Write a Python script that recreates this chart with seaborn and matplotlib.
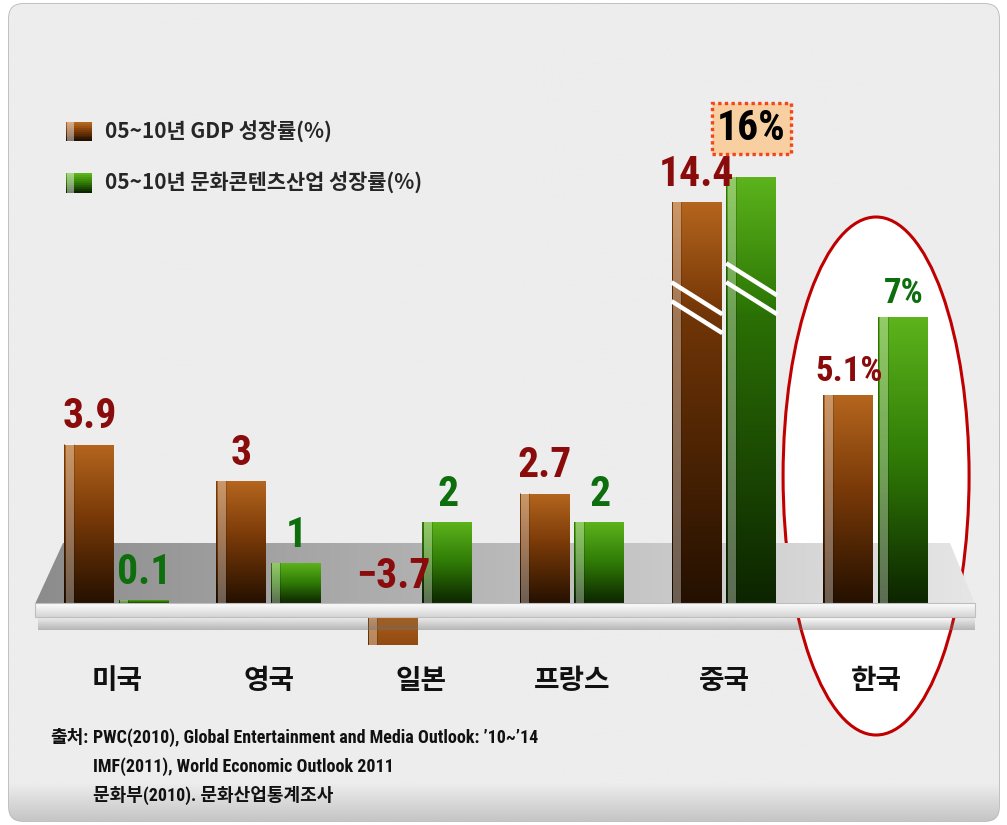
import numpy as np
import pandas as pd
import matplotlib
matplotlib.use('Agg')
import matplotlib.pyplot as plt
import seaborn as sns
from matplotlib import font_manager as fm
from matplotlib.font_manager import FontProperties
from matplotlib.patches import Rectangle, Ellipse, Polygon, FancyBboxPatch, Patch
from matplotlib.legend_handler import HandlerBase
from matplotlib.colors import to_rgb

# ---------------- data ----------------
countries = ['미국', '영국', '일본', '프랑스', '중국', '한국']
gdp_growth = [3.9, 3.0, -3.7, 2.7, 14.4, 5.1]
culture_growth = [0.1, 1.0, 2.0, 2.0, 16.0, 7.0]
gdp_labels = ['3.9', '3', '−3.7', '2.7', '14.4', '5.1%']
culture_labels = ['0.1', '1', '2', '2', '16%', '7%']
series_names = ['05~10년 GDP 성장률(%)', '05~10년 문화콘텐츠산업 성장률(%)']
source_prefix = '출처:'
source_lines = ['PWC(2010), Global Entertainment and Media Outlook: ’10~’14',
                'IMF(2011), World Economic Outlook 2011',
                '문화부(2010). 문화산업통계조사']
highlight_country = '한국'
boxed_country = '중국'

# ---------------- style ----------------
sns.set_theme(style='white')
plt.rcParams['font.family'] = ['Noto Sans CJK KR', 'DejaVu Sans']
plt.rcParams['axes.unicode_minus'] = False

# condensed font for value labels (if one is installed)
narrow_path = None
prefs = ['LiberationSansNarrow-Bold', 'RobotoCondensed-Bold', 'DejaVuSansCondensed-Bold']
paths = [f.fname for f in fm.fontManager.ttflist]
for pref in prefs:
    for p in paths:
        if pref.lower() in p.lower().replace(' ', ''):
            narrow_path = p
            break
    if narrow_path:
        break
narrow_name = FontProperties(fname=narrow_path).get_name() if narrow_path else 'Noto Sans CJK KR'
mixed_family = [narrow_name, 'Noto Sans CJK KR', 'DejaVu Sans']


def label_font(size):
    if narrow_path:
        return FontProperties(fname=narrow_path, size=size)
    return FontProperties(family=['Noto Sans CJK KR', 'DejaVu Sans'], weight='bold', size=size)


GDP_STOPS = [(0.0, '#241000'), (0.55, '#7A3A08'), (1.0, '#B5661E')]
CUL_STOPS = [(0.0, '#0C2400'), (0.5, '#2F7A06'), (1.0, '#5DB41C')]
GDP_TEXT = '#8A0B0B'
CUL_TEXT = '#0E6E0E'


def vgrad(stops, n=256):
    pos = np.array([s[0] for s in stops])
    cols = np.array([to_rgb(s[1]) for s in stops])
    t = np.linspace(0, 1, n)
    out = np.stack([np.interp(t, pos, cols[:, k]) for k in range(3)], axis=-1)
    return out[:, None, :]


# broken-axis style scale: linear up to BREAK, squeezed above
BREAK = 7.0
SQUEEZE = 0.38


def fwd(y):
    y = np.asarray(y, float)
    return np.where(y <= BREAK, y, BREAK + (y - BREAK) * SQUEEZE)


def inv(t):
    t = np.asarray(t, float)
    return np.where(t <= BREAK, t, BREAK + (t - BREAK) / SQUEEZE)


W, H = 1007, 825
PX_PER_UNIT = 41
Y_LOW = -1.0
fig = plt.figure(figsize=(W / 100, H / 100), dpi=100)
fig.patch.set_facecolor('white')

# background decoration axes (pixel coordinates)
bg = fig.add_axes([0, 0, 1, 1], zorder=0)
bg.set_xlim(0, W)
bg.set_ylim(H, 0)
bg.axis('off')

frame = FancyBboxPatch((9, 4), 990, 817, boxstyle='round,pad=0,rounding_size=14',
                       fc='#ECECEC', ec='#B5B5B5', lw=1.2)
bg.add_patch(frame)
rows = np.linspace(0, 1, 400)
shade = np.clip((rows - 0.955) / 0.045, 0, 1)
base = np.array(to_rgb('#EDEDED'))
dark = np.array(to_rgb('#C6C6C6'))
frame_img = (base[None, :] * (1 - shade[:, None]) + dark[None, :] * shade[:, None])[:, None, :]
im = bg.imshow(frame_img, extent=(9, 999, 821, 4), origin='upper', aspect='auto', zorder=1)
im.set_clip_path(frame)

# main chart axes
ax = fig.add_axes([41 / W, (H - 645) / H, (952 - 41) / W, (645 - 60) / H], zorder=1)
ax.set_facecolor('none')

df = pd.DataFrame({
    'country': countries * 2,
    'series': [series_names[0]] * len(countries) + [series_names[1]] * len(countries),
    'value': gdp_growth + culture_growth,
})
sns.barplot(data=df, x='country', y='value', hue='series', order=countries,
            hue_order=series_names, palette=['#8A4208', '#3E8E10'], width=0.72, gap=0.07,
            errorbar=None, legend=False, ax=ax)
ax.set_yscale('function', functions=(fwd, inv))

stops_list = [GDP_STOPS, CUL_STOPS]
label_lists = [gdp_labels, culture_labels]
value_lists = [gdp_growth, culture_growth]
text_cols = [GDP_TEXT, CUL_TEXT]

for s, cont in enumerate(ax.containers):
    for i, r in enumerate(cont.patches):
        x0, w = r.get_x(), r.get_width()
        y0, h = r.get_y(), r.get_height()
        ymin, ymax = min(y0, y0 + h), max(y0, y0 + h)
        vis_min = max(ymin, Y_LOW)
        ax.imshow(vgrad(stops_list[s]), extent=(x0, x0 + w, ymin, ymax), origin='lower',
                  aspect='auto', zorder=2, interpolation='bilinear')
        ax.add_patch(Rectangle((x0 + 0.03 * w, vis_min), 0.16 * w, ymax - vis_min, fc='white',
                               alpha=0.33, lw=0, zorder=2.1))
        ax.add_patch(Rectangle((x0 + 0.19 * w, vis_min), 0.018 * w, ymax - vis_min, fc='black',
                               alpha=0.18, lw=0, zorder=2.1))
        ax.add_patch(Rectangle((x0, vis_min), 0.02 * w, ymax - vis_min, fc='black',
                               alpha=0.35, lw=0, zorder=2.1))
        r.set_facecolor('none')
        r.set_edgecolor('none')

        v = value_lists[s][i]
        # break marks on squeezed bars
        if v > BREAK:
            tm = 0.76 * float(fwd(v))
            for off in (0.0, -0.46):
                ax.plot([x0, x0 + w], [float(inv(tm + off + 0.39)), float(inv(tm + off - 0.39))],
                        color='white', lw=3.2, solid_capstyle='butt', zorder=2.5)

        # value labels
        lab = label_lists[s][i]
        size = 25 if countries[i] == highlight_country else 30
        y = max(v, 0)
        if countries[i] == boxed_country and s == 1:
            ax.annotate(lab, xy=(x0 + w / 2, y), xytext=(0, 20), textcoords='offset points',
                        ha='center', va='bottom', color='black', fontproperties=label_font(size),
                        zorder=4, annotation_clip=False,
                        bbox=dict(boxstyle='square,pad=0.12', fc='#F7CFA0', ec='#F2461A',
                                  ls=(0, (1, 1)), lw=2.4))
        else:
            ax.annotate(lab, xy=(x0 + w / 2, y), xytext=(0, 5), textcoords='offset points',
                        ha='center', va='bottom', color=text_cols[s],
                        fontproperties=label_font(size), zorder=4, annotation_clip=False)

ax.set_xlim(-0.5, len(countries) - 0.5)
ax.set_ylim(Y_LOW, float(inv(544 / PX_PER_UNIT)))
ax.set_xlabel('')
ax.set_ylabel('')
ax.set_yticks([])
for sp in ax.spines.values():
    sp.set_visible(False)
ax.tick_params(axis='x', length=0, pad=16, labelsize=20)
for t in ax.get_xticklabels():
    t.set_fontweight('bold')
    t.set_color('#111111')

# highlight ellipse around Korea (background layer)
kx = ax.transData.transform((countries.index(highlight_country), 0))[0]
bg.add_patch(Ellipse((kx, 476), 186, 518, fc='white', ec='#C00000', lw=2.2, zorder=2))

# platform top surface
plat = Polygon([(35, 604), (63, 543), (950, 543), (975, 604)], closed=True, fc='none', ec='none')
bg.add_patch(plat)
cols = np.linspace(0, 1, 300)
pl = np.array(to_rgb('#8C8C8C'))
pr = np.array(to_rgb('#E6E6E6'))
plat_img = (pl[None, :] * (1 - cols[:, None]) + pr[None, :] * cols[:, None])[None, :, :]
pim = bg.imshow(plat_img, extent=(35, 975, 604, 543), origin='upper', aspect='auto', zorder=3)
pim.set_clip_path(plat)

# front edge of platform (drawn above bars)
fg = fig.add_axes([0, 0, 1, 1], zorder=2)
fg.set_xlim(0, W)
fg.set_ylim(H, 0)
fg.axis('off')
fg.patch.set_alpha(0)
shadow = np.zeros((50, 1, 4))
shadow[:, 0, :3] = 0.45
shadow[:, 0, 3] = np.linspace(0.45, 0.0, 50)
fg.imshow(shadow, extent=(38, 975, 617, 630), origin='upper', aspect='auto', zorder=1)
edge = Rectangle((35, 603), 940, 14, fc='none', ec='#BEBEBE', lw=0.8, zorder=3)
fg.add_patch(edge)
egrad = np.linspace(0, 1, 50)
ew = np.array(to_rgb('#FDFDFD'))
eg = np.array(to_rgb('#D5D5D5'))
edge_img = (ew[None, :] * (1 - egrad[:, None]) + eg[None, :] * egrad[:, None])[:, None, :]
fg.imshow(edge_img, extent=(35, 975, 617, 603), origin='upper', aspect='auto', zorder=2)


# legend
class GradientSquare(HandlerBase):
    def __init__(self, stops, light):
        super().__init__()
        self.stops = stops
        self.light = light

    def create_artists(self, legend, orig_handle, xdescent, ydescent, width, height, fontsize, trans):
        arts = []
        g = vgrad(self.stops, 10)[:, 0, :]
        n = len(g)
        for k in range(n):
            arts.append(Rectangle((-xdescent, -ydescent + k * height / n), width, height / n + 0.3,
                                  fc=g[k], ec='none', transform=trans))
        arts.append(Rectangle((-xdescent + 0.04 * width, -ydescent), 0.26 * width, height,
                              fc=self.light, alpha=0.45, ec='none', transform=trans))
        return arts


h1 = Patch(label=series_names[0])
h2 = Patch(label=series_names[1])
ax.legend(handles=[h1, h2], labels=series_names,
          handler_map={h1: GradientSquare(GDP_STOPS, 'white'), h2: GradientSquare(CUL_STOPS, 'white')},
          loc='upper left', bbox_to_anchor=(66 / W, 1 - 121 / H), bbox_transform=fig.transFigure,
          frameon=False, borderpad=0, borderaxespad=0, handlelength=1.25, handleheight=1.05,
          handletextpad=0.6, labelspacing=1.4,
          prop=FontProperties(family=['Noto Sans CJK KR', 'DejaVu Sans'], weight='bold', size=15))

# source note: prefix, then lines aligned after the measured prefix width
src_font = dict(fontsize=13, fontweight='bold', color='#111111', va='center', ha='left',
                family=mixed_family)
prefix = fig.text(50 / W, 1 - 738 / H, source_prefix, **src_font)
renderer = fig.canvas.get_renderer()
px_right = prefix.get_window_extent(renderer).x1
for k, line in enumerate(source_lines):
    fig.text((px_right + 5) / W, 1 - (738 + 28.5 * k) / H, line, **src_font)

fig.savefig('out.png', dpi=100)
